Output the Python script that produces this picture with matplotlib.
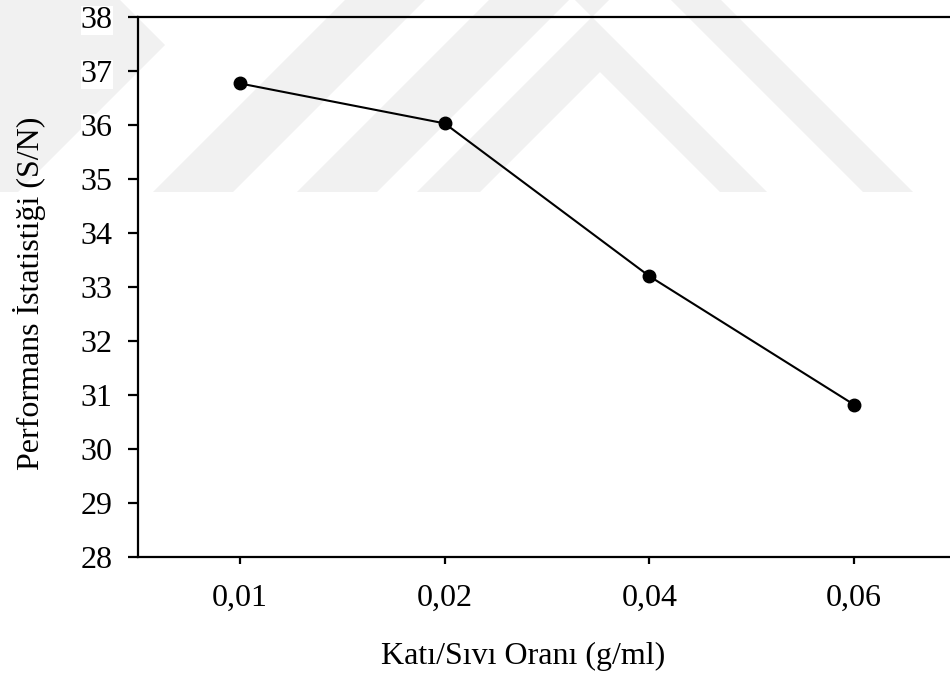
import matplotlib.pyplot as plt
from matplotlib.patches import Polygon

plt.rcParams['font.family'] = ['Liberation Serif', 'DejaVu Serif']

# veriler
oranlar = ['0,01', '0,02', '0,04', '0,06']
sn_degerleri = [36.77, 36.03, 33.20, 30.82]
y_ticks = [28, 29, 30, 31, 32, 33, 34, 35, 36, 37, 38]

W, H = 950, 680
fig = plt.figure(figsize=(W / 100, H / 100), dpi=100)


def px(pts):
    # piksel koordinatlari -> figur orani
    return [(x / W, 1 - y / H) for x, y in pts]


# arka plandaki soluk filigran (grafigin altinda kalsin)
arka = fig.add_axes([0, 0, 1, 1], zorder=-1)
arka.axis('off')
filigran = [
    [(0, 0), (120, 0), (165, 45), (18, 192), (0, 192)],
    [(153, 192), (233, 192), (425, 0), (345, 0)],
    [(297, 192), (377, 192), (569, 0), (489, 0)],
    [(417, 192), (480, 192), (600, 72), (720, 192), (767, 192), (592, 17), (575, 0), (609, 0)],
    [(671, 0), (721, 0), (913, 192), (863, 192)],
]
for p in filigran:
    arka.add_patch(Polygon(px(p), closed=True, transform=fig.transFigure,
                           facecolor='#f1f1f1', edgecolor='none'))

ax = fig.add_axes([137.5 / W, 1 - 557 / H, 819 / W, 540 / H])
ax.set_facecolor('none')

x = range(len(oranlar))
ax.plot(x, sn_degerleri, color='black', lw=1.5, marker='o', ms=9, clip_on=False)

ax.set_xlim(-0.5, len(oranlar) - 0.5)
ax.set_ylim(28, 38)
ax.set_xticks(list(x))
ax.set_xticklabels(oranlar)
ax.set_yticks(y_ticks)

ax.spines['right'].set_visible(False)
for s in ['left', 'top', 'bottom']:
    ax.spines[s].set_linewidth(1.6)

ax.tick_params(axis='y', direction='out', length=7, width=1.6, labelsize=23, pad=11)
ax.tick_params(axis='x', direction='out', length=5, width=1.6, labelsize=23, pad=14)
for lbl in ax.get_yticklabels():
    lbl.set_bbox(dict(facecolor='white', edgecolor='none', pad=0))

fig.text(523 / W, 1 - 656 / H, 'Katı/Sıvı Oranı (g/ml)', fontsize=23,
         ha='center', va='center')
fig.text(30 / W, 1 - 293 / H, 'Performans İstatistiği (S/N)', fontsize=23,
         ha='center', va='center', rotation=90)

fig.savefig('out.png', dpi=100)
